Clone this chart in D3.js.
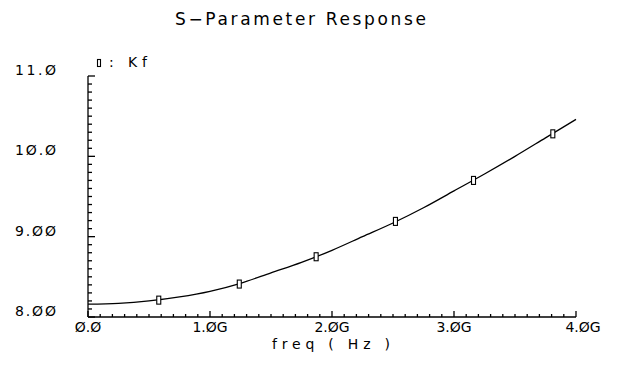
<!DOCTYPE html>
<html>
<head>
<meta charset="utf-8">
<script src="https://cdn.jsdelivr.net/npm/d3@7/dist/d3.min.js"></script>
<style>
  html, body { margin: 0; padding: 0; background: #fff; }
  svg { display: block; }
  text { font-family: "DejaVu Sans", "Liberation Sans", sans-serif; font-weight: normal; fill: #000; }
</style>
</head>
<body>
<svg id="chart" width="618" height="371"></svg>
<script>
// ---- data ----
const freqGHz = [0, 0.25, 0.5, 0.75, 1.0, 1.25, 1.5, 1.75, 2.0, 2.25, 2.5, 2.75, 3.0, 3.25, 3.5, 3.75, 4.0];
const kf      = [8.16, 8.17, 8.20, 8.25, 8.32, 8.42, 8.55, 8.68, 8.83, 9.00, 9.17, 9.36, 9.57, 9.78, 10.00, 10.23, 10.46];
const markerFreqGHz = [0.58, 1.24, 1.87, 2.52, 3.16, 3.81];
const markerKf      = [8.21, 8.41, 8.75, 9.19, 9.70, 10.28];
const yTickValues = [8, 9, 10, 11];
const yTickLabels = ["8.ØØ", "9.ØØ", "1Ø.Ø", "11.Ø"];
const xTickValues = [0, 1, 2, 3, 4];
const xTickLabels = ["Ø.Ø", "1.ØG", "2.ØG", "3.ØG", "4.ØG"];
const titleText = "S\u2212Parameter Response";
const xLabelText = "freq ( Hz )";
const legendText = "Kf";

const svg = d3.select("#chart");
const mLeft = 88, mRight = 576, mTop = 76, mBottom = 317;

const x = d3.scaleLinear().domain([0, 4]).range([mLeft, mRight]);
const y = d3.scaleLinear().domain([8, 11]).range([mBottom, mTop]);

// title
svg.append("text")
  .attr("x", 175).attr("y", 25)
  .attr("font-size", 17)
  .attr("textLength", 251).attr("lengthAdjust", "spacing")
  .text(titleText);

// axes lines
const axisG = svg.append("g").attr("stroke", "#000").attr("stroke-width", 1.3).attr("fill", "none");
axisG.append("line").attr("x1", mLeft).attr("x2", mLeft).attr("y1", mTop).attr("y2", mBottom);
axisG.append("line").attr("x1", mLeft).attr("x2", mRight).attr("y1", mBottom).attr("y2", mBottom);

// y minor ticks (every 0.1), major at integers; pointing inward (right)
const yMinor = d3.range(80, 111).map(d => d / 10);
axisG.selectAll(".yt").data(yMinor).join("line")
  .attr("x1", mLeft).attr("x2", d => mLeft + (Math.abs(d - Math.round(d)) < 1e-6 ? 7 : 4))
  .attr("y1", d => y(d)).attr("y2", d => y(d));

// x minor ticks (every 0.1G), major at each 1G; pointing up
const xMinor = d3.range(0, 41).map(d => d / 10);
axisG.selectAll(".xt").data(xMinor).join("line")
  .attr("x1", d => x(d)).attr("x2", d => x(d))
  .attr("y1", mBottom).attr("y2", d => mBottom - (Math.abs(d - Math.round(d)) < 1e-6 ? 6 : 3));

// y tick labels
svg.append("g").selectAll("text").data(yTickValues).join("text")
  .attr("x", 56).attr("y", d => y(d) - 1)
  .attr("text-anchor", "end")
  .attr("font-size", 14)
  .attr("textLength", 41).attr("lengthAdjust", "spacing")
  .text((d, i) => yTickLabels[i]);

// x tick labels
svg.append("g").selectAll("text").data(xTickValues).join("text")
  .attr("x", d => x(d) + (d === 4 ? 7 : 0)).attr("y", 332)
  .attr("text-anchor", "middle")
  .attr("font-size", 14)
  .text((d, i) => xTickLabels[i]);

// x axis label
svg.append("text")
  .attr("x", 272).attr("y", 349)
  .attr("font-size", 14)
  .attr("textLength", 118).attr("lengthAdjust", "spacing")
  .text(xLabelText);

// curve
const line = d3.line().x((d, i) => x(freqGHz[i])).y(d => y(d)).curve(d3.curveMonotoneX);
svg.append("path").datum(kf)
  .attr("d", line)
  .attr("fill", "none").attr("stroke", "#000").attr("stroke-width", 1.3);

// markers
svg.append("g").selectAll("rect").data(markerKf).join("rect")
  .attr("x", (d, i) => x(markerFreqGHz[i]) - 2).attr("y", d => y(d) - 4)
  .attr("width", 4).attr("height", 8)
  .attr("fill", "#fff").attr("stroke", "#000").attr("stroke-width", 1.1);

// legend
svg.append("rect").attr("x", 97.5).attr("y", 59.5).attr("width", 3).attr("height", 7)
  .attr("fill", "#fff").attr("stroke", "#000").attr("stroke-width", 1.1);
svg.append("text").attr("x", 109).attr("y", 67).attr("font-size", 14).text(":");
svg.append("text").attr("x", 128).attr("y", 67).attr("font-size", 14)
  .attr("textLength", 19).attr("lengthAdjust", "spacing").text(legendText);
</script>
</body>
</html>
